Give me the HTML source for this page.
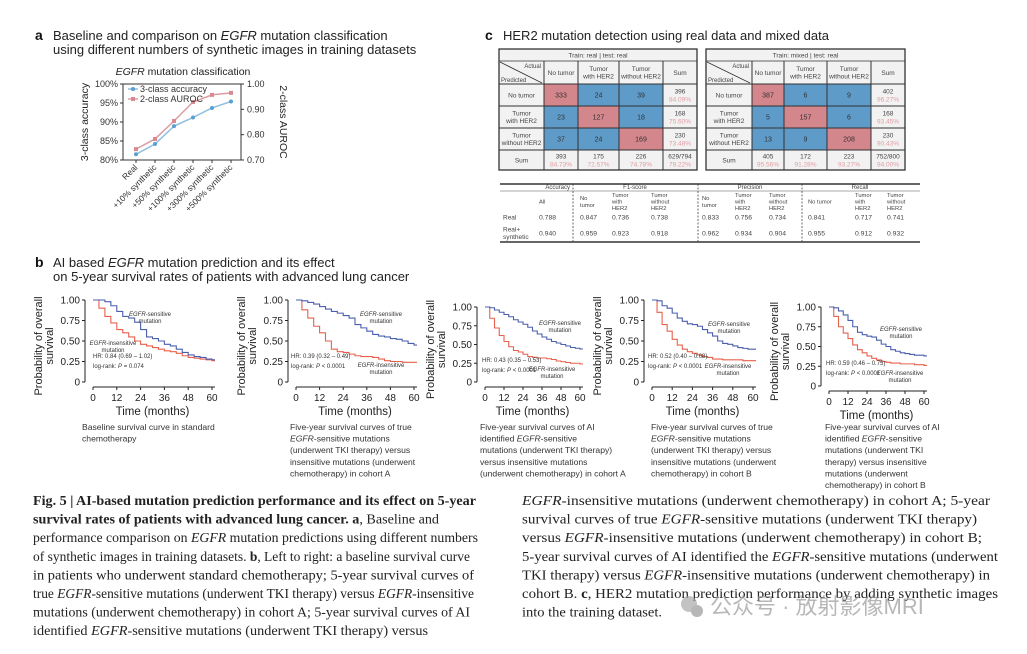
<!DOCTYPE html>
<html><head><meta charset="utf-8"><style>
html,body{margin:0;padding:0;background:#fff;}
svg{display:block;font-family:"Liberation Sans",sans-serif;}
.cap{font-family:"Liberation Serif","Noto Serif CJK SC",serif;font-size:13.5px;fill:#222;}
</style></head><body>
<svg id="fig" width="1027" height="654" viewBox="0 0 1027 654" xmlns="http://www.w3.org/2000/svg">
<rect width="1027" height="654" fill="#fff"/>
<g id="panelA"></g>
<g id="panelC"></g>
<g id="panelB"></g>
<g id="caption"></g>
</svg>
<script>
// ---------- Panel a data ----------
const catsA = ["Real","+10% synthetic","+50% synthetic","+100% synthetic","+300% synthetic","+500% synthetic"];
const accA = [81.5, 84.2, 88.9, 91.2, 93.7, 95.4];
const aucA = [0.743, 0.783, 0.854, 0.929, 0.957, 0.965];
const accTicks = ["80%","85%","90%","95%","100%"];
const aucTicks = ["0.70","0.80","0.90","1.00"];

// ---------- Panel c data ----------
const cmLabels = ["No tumor","Tumor\nwith HER2","Tumor\nwithout HER2"];
const cmReal = [[333,24,39],[23,127,18],[37,24,169]];
const cmRealRowSum = ["396","168","230"];
const cmRealRowPct = ["84.09%","75.60%","73.48%"];
const cmRealColSum = ["393","175","226","629/794"];
const cmRealColPct = ["84.73%","72.57%","74.78%","79.22%"];
const cmMix = [[387,6,9],[5,157,6],[13,9,208]];
const cmMixRowSum = ["402","168","230"];
const cmMixRowPct = ["96.27%","93.45%","90.43%"];
const cmMixColSum = ["405","172","223","752/800"];
const cmMixColPct = ["95.56%","91.28%","93.27%","94.00%"];
const metricRows = ["Real","Real+\nsynthetic"];
const metricReal = ["0.788","0.847","0.736","0.738","0.833","0.756","0.734","0.841","0.717","0.741"];
const metricSyn = ["0.940","0.959","0.923","0.918","0.962","0.934","0.904","0.955","0.912","0.932"];

// ---------- Panel b data (survival at 0,3,...,60 months) ----------
const kmTimes = [0,3,6,9,12,15,18,21,24,27,30,33,36,39,42,45,48,51,54,57,60];
const km1Sens = [1,1,.98,.93,.86,.80,.78,.73,.64,.55,.53,.50,.46,.44,.40,.36,.33,.31,.30,.28,.27];
const km1Ins  = [1,.90,.80,.72,.64,.60,.55,.50,.46,.44,.42,.40,.38,.37,.35,.32,.30,.29,.28,.27,.26];
const km2Sens = [1,.99,.97,.95,.92,.89,.86,.84,.81,.78,.70,.66,.62,.58,.56,.55,.53,.52,.50,.47,.45];
const km2Ins  = [1,.88,.78,.68,.60,.50,.40,.37,.36,.34,.32,.31,.31,.30,.28,.26,.25,.25,.24,.24,.24];
const km3Sens = [1,.99,.96,.93,.90,.87,.83,.80,.77,.73,.68,.64,.60,.57,.54,.52,.50,.48,.46,.45,.44];
const km3Ins  = [1,.85,.72,.62,.54,.47,.42,.40,.37,.34,.33,.32,.32,.31,.30,.28,.27,.26,.25,.25,.24];
const km4Sens = [1,.99,.93,.90,.84,.78,.74,.71,.70,.68,.64,.60,.56,.50,.47,.46,.44,.42,.41,.40,.40];
const km4Ins  = [1,.85,.70,.62,.52,.45,.40,.37,.35,.33,.31,.30,.28,.28,.27,.27,.27,.27,.26,.26,.26];
const km5Sens = [1,.99,.95,.90,.83,.75,.68,.65,.63,.62,.58,.53,.50,.46,.44,.42,.41,.40,.39,.39,.38];
const km5Ins  = [1,.88,.75,.67,.60,.52,.46,.42,.38,.35,.33,.31,.30,.29,.29,.28,.28,.28,.27,.27,.26];
const kmXTicks = ["0","12","24","36","48","60"];
const kmYTicks = ["0","0.25","0.50","0.75","1.00"];

const NS="http://www.w3.org/2000/svg";
function el(tag, attrs, parent, text){
  const e=document.createElementNS(NS,tag);
  for(const k in attrs) e.setAttribute(k,attrs[k]);
  if(text!==undefined) e.textContent=text;
  parent.appendChild(e); return e;
}

// ================= Panel a =================
(function(){
  const g=document.getElementById('panelA');
  const t1=el('text',{x:35,y:40,'font-size':14,'font-weight':'bold',fill:'#111'},g,'a');
   
  const tt=el('text',{x:53,y:40,'font-size':13,fill:'#222'},g);
   
  tt.innerHTML='Baseline and comparison on <tspan font-style="italic">EGFR</tspan> mutation classification';
  const tt2=el('text',{x:53,y:54,'font-size':13,fill:'#222'},g,'using different numbers of synthetic images in training datasets');
   
  const st=el('text',{x:183,y:75,'font-size':10.5,'text-anchor':'middle',fill:'#222'},g);
   
  st.innerHTML='<tspan font-style="italic">EGFR</tspan> mutation classification';
  const L=123,R=241,T=84,B=160;
  const xS=i=>136+i*(231-136)/(catsA.length-1);
  const yAcc=v=>B-(v-80)/20*(B-T);
  const yAuc=v=>B-(v-0.7)/0.3*(B-T);
  const box=el('rect',{x:L,y:T,width:R-L,height:B-T,fill:'none',stroke:'#333','stroke-width':1},g);
   
  accTicks.forEach((s,i)=>{const v=80+i*5;const y=yAcc(v);
    el('line',{x1:L-3,x2:L,y1:y,y2:y,stroke:'#333'},g);
    const t=el('text',{x:L-5,y:y+3,'font-size':9,'text-anchor':'end',fill:'#333'},g,s);
     });
  aucTicks.forEach((s,i)=>{const v=0.7+i*0.1;const y=yAuc(v);
    el('line',{x1:R,x2:R+3,y1:y,y2:y,stroke:'#333'},g);
    const t=el('text',{x:R+6,y:y+3,'font-size':9,fill:'#333'},g,s);
     });
  catsA.forEach((c,i)=>{const x=xS(i);
    el('line',{x1:x,x2:x,y1:B,y2:B+3,stroke:'#333'},g);
    const t=el('text',{x:x+2,y:B+8,'font-size':8.5,'text-anchor':'end',fill:'#333',transform:`rotate(-45 ${x+2} ${B+8})`},g,c);
     });
  const yl=el('text',{x:88,y:122,'font-size':10.5,'text-anchor':'middle',fill:'#222',transform:'rotate(-90 88 122)'},g,'3-class accuracy');
   
  const yr=el('text',{x:280,y:122,'font-size':10.5,'text-anchor':'middle',fill:'#222',transform:'rotate(90 280 122)'},g,'2-class AUROC');
   
  const pa=el('polyline',{points:aucA.map((v,i)=>xS(i)+','+yAuc(v)).join(' '),fill:'none',stroke:'#dc9da2','stroke-width':1.5},g);
   
  aucA.forEach((v,i)=>{const m=el('rect',{x:xS(i)-2,y:yAuc(v)-2,width:4,height:4,fill:'#d88a90'},g);
     });
  const pb=el('polyline',{points:accA.map((v,i)=>xS(i)+','+yAcc(v)).join(' '),fill:'none',stroke:'#8fc0e0','stroke-width':1.5},g);
   
  accA.forEach((v,i)=>{const m=el('circle',{cx:xS(i),cy:yAcc(v),r:2,fill:'#5a9fd0'},g);
     });
  el('line',{x1:128,x2:138,y1:89,y2:89,stroke:'#8fc0e0','stroke-width':1.5},g);
  el('circle',{cx:133,cy:89,r:2,fill:'#5a9fd0'},g);
  const l1=el('text',{x:140,y:92,'font-size':9,fill:'#333'},g,'3-class accuracy');
   
  el('line',{x1:128,x2:138,y1:99,y2:99,stroke:'#dc9da2','stroke-width':1.5},g);
  el('rect',{x:131,y:97,width:4,height:4,fill:'#d88a90'},g);
  const l2=el('text',{x:140,y:102,'font-size':9,fill:'#333'},g,'2-class AUROC');
   
})();

// ================= Panel c =================
function ml(g,x,y,str,fs,fill,anchor,name){
  const lines=str.split('\n');const lh=fs*1.15;
  const y0=y-(lines.length-1)*lh/2;
  lines.forEach((s,i)=>{const t=el('text',{x:x,y:y0+i*lh+fs*0.35,'font-size':fs,'text-anchor':anchor||'middle',fill:fill||'#333'},g,s);
     });
}
function confTable(g,cols,title,cm,rs,rp,cs,cp,name){
  const rows=[49,61,84,106,128,150,170];
  const tg=el('g',{},g);  
  const L=cols[0],R=cols[5];
  el('rect',{x:L,y:rows[0],width:R-L,height:rows[6]-rows[0],fill:'#f1f2f1'},tg);
  for(let r=0;r<3;r++)for(let c=0;c<3;c++){
    const cell=el('rect',{x:cols[c+1],y:rows[r+2],width:cols[c+2]-cols[c+1],height:rows[r+3]-rows[r+2],fill:r===c?'#d3868b':'#5e9bc9'},tg);
     
    ml(tg,(cols[c+1]+cols[c+2])/2,(rows[r+2]+rows[r+3])/2,String(cm[r][c]),7,'#333','middle','cell-value');
  }
  el('rect',{x:L,y:rows[0],width:R-L,height:rows[6]-rows[0],fill:'none',stroke:'#333','stroke-width':1.3},tg);
  for(let i=1;i<6;i++) el('line',{x1:L,x2:R,y1:rows[i],y2:rows[i],stroke:'#333','stroke-width':i===1?0.8:1},tg);
  for(let i=1;i<5;i++) el('line',{x1:cols[i],x2:cols[i],y1:rows[1],y2:rows[6],stroke:'#333','stroke-width':1},tg);
  ml(tg,(L+R)/2,55,title,6.5,'#444','middle','table-title');
  el('line',{x1:L+1,y1:rows[1]+1,x2:cols[1]-2,y2:rows[2]-1,stroke:'#333','stroke-width':0.8},tg);
  ml(tg,cols[1]-3,66,'Actual',6,'#444','end','header-actual');
  ml(tg,L+2,80,'Predicted',6,'#444','start','header-predicted');
  const hd=["No tumor","Tumor\nwith HER2","Tumor\nwithout HER2","Sum"];
  hd.forEach((h,i)=>ml(tg,(cols[i+1]+cols[i+2])/2,72.5,h,6.5,'#444','middle','column-header'));
  cmLabels.forEach((h,i)=>ml(tg,(L+cols[1])/2,(rows[i+2]+rows[i+3])/2,h,6.5,'#444','middle','row-header'));
  ml(tg,(L+cols[1])/2,160,'Sum',6.5,'#444','middle','row-header');
  for(let r=0;r<3;r++){const cy=(rows[r+2]+rows[r+3])/2;
    ml(tg,(cols[4]+R)/2,cy-4,rs[r],6.5,'#444','middle','row-sum');
    ml(tg,(cols[4]+R)/2,cy+4,rp[r],6.5,'#e39ca2','middle','row-percent');}
  for(let c=0;c<4;c++){const cx=(cols[c+1]+cols[c+2])/2;
    ml(tg,cx,156,cs[c],6.5,'#444','middle','column-sum');
    ml(tg,cx,164,cp[c],6.5,'#e39ca2','middle','column-percent');}
}
(function(){
  const g=document.getElementById('panelC');
  const a=el('text',{x:485,y:40,'font-size':14,'font-weight':'bold',fill:'#111'},g,'c');
   
  const t=el('text',{x:503,y:40,'font-size':13,fill:'#222'},g,'HER2 mutation detection using real data and mixed data');
   
  confTable(g,[499,544,578,619,663,697],'Train: real | test: real',cmReal,cmRealRowSum,cmRealRowPct,cmRealColSum,cmRealColPct,'confusion-matrix-real');
  confTable(g,[706,752,784,827,871,905],'Train: mixed | test: real',cmMix,cmMixRowSum,cmMixRowPct,cmMixColSum,cmMixColPct,'confusion-matrix-mixed');
  const mg=el('g',{},g);  
  el('line',{x1:500,x2:920,y1:184,y2:184,stroke:'#333','stroke-width':1.5},mg);
  el('line',{x1:500,x2:920,y1:191,y2:191,stroke:'#555','stroke-width':0.6},mg);
  el('line',{x1:500,x2:920,y1:242,y2:242,stroke:'#333','stroke-width':1.5},mg);
  [573,698,802].forEach(x=>el('line',{x1:x,x2:x,y1:184,y2:242,stroke:'#444','stroke-width':0.8,'stroke-dasharray':'2,1.5'},mg));
  ml(mg,570,187,'Accuracy',6,'#444','end','metric-header');
  ml(mg,635,187,'F1-score',6,'#444','middle','metric-header');
  ml(mg,750,187,'Precision',6,'#444','middle','metric-header');
  ml(mg,860,187,'Recall',6,'#444','middle','metric-header');
  const colX=[539,580,612,651,702,735,769,808,855,887];
  const sub=["All","No\ntumor","Tumor\nwith\nHER2","Tumor\nwithout\nHER2","No\ntumor","Tumor\nwith\nHER2","Tumor\nwithout\nHER2","No tumor","Tumor\nwith\nHER2","Tumor\nwithout\nHER2"];
  sub.forEach((s,i)=>ml(mg,colX[i],201.5,s,5.8,'#444','start','metric-subheader'));
  ml(mg,503,217,metricRows[0],6.5,'#444','start','metric-row-label');
  ml(mg,503,233,metricRows[1],6.5,'#444','start','metric-row-label');
  metricReal.forEach((v,i)=>ml(mg,colX[i],217,v,6.8,'#444','start','metric-value'));
  metricSyn.forEach((v,i)=>ml(mg,colX[i],233,v,6.8,'#444','start','metric-value'));
})();

// ================= Panel b =================
function kmPlot(g,cfg,sens,ins){
  const pg=el('g',{},g);  
  const xS=t=>cfg.x0+t/60*(cfg.x60-cfg.x0);
  const yS=v=>cfg.y0-v*(cfg.y0-cfg.y1);
  const ax=cfg.x0-8, bx=cfg.y0+5;
  el('line',{x1:ax,x2:ax,y1:cfg.y1,y2:cfg.y0,stroke:'#222','stroke-width':1},pg);
  el('line',{x1:cfg.x0,x2:cfg.x60+3,y1:bx,y2:bx,stroke:'#222','stroke-width':1},pg);
  kmYTicks.forEach((s,i)=>{const y=yS(i*0.25);
    el('line',{x1:ax-3,x2:ax,y1:y,y2:y,stroke:'#222'},pg);
    const t=el('text',{x:ax-5,y:y+3.5,'font-size':10,'text-anchor':'end',fill:'#222'},pg,s);
     });
  kmXTicks.forEach((s,i)=>{const x=xS(i*12);
    el('line',{x1:x,x2:x,y1:bx,y2:bx+3,stroke:'#222'},pg);
    const t=el('text',{x:x,y:bx+14,'font-size':10,'text-anchor':'middle',fill:'#222'},pg,s);
     });
  const xt=el('text',{x:(cfg.x0+cfg.x60)/2,y:bx+28,'font-size':11.5,'text-anchor':'middle',fill:'#222'},pg,'Time (months)');
   
  const cy=(cfg.y0+cfg.y1)/2+5;
  [['Probability of overall',ax-43],['survival',ax-32]].forEach(([s,x])=>{
    const t=el('text',{x:x,y:cy,'font-size':11,'text-anchor':'middle',fill:'#222',transform:`rotate(-90 ${x} ${cy})`},pg,s);
     });
  function step(arr){let d='M'+xS(kmTimes[0])+','+yS(arr[0]);
    for(let i=1;i<arr.length;i++){d+=' H'+xS(kmTimes[i])+' V'+yS(arr[i]);} d+=' H'+(cfg.x60+3); return d;}
  const pr=el('path',{d:step(ins),fill:'none',stroke:'#e8604c','stroke-width':1.1},pg);
   
  const pb=el('path',{d:step(sens),fill:'none',stroke:'#4a5fae','stroke-width':1.1},pg);
   
  function note(x,y,anchor,name){const t=el('text',{x:x,y:y,'font-size':6,'text-anchor':anchor,fill:'#333'},pg);
      return t;}
  let t=note(cfg.sx,cfg.sy,'middle','sensitive-label'); t.innerHTML='<tspan font-style="italic">EGFR</tspan>-sensitive';
  note(cfg.sx,cfg.sy+7,'middle','sensitive-label').textContent='mutation';
  t=note(cfg.ix,cfg.iy,'middle','insensitive-label'); t.innerHTML='<tspan font-style="italic">EGFR</tspan>-insensitive';
  note(cfg.ix,cfg.iy+7,'middle','insensitive-label').textContent='mutation';
  note(cfg.hx,cfg.hy,'start','hazard-ratio').textContent=cfg.hr;
  t=note(cfg.hx,cfg.hy+10,'start','log-rank-p'); t.innerHTML='log-rank: <tspan font-style="italic">P</tspan> '+cfg.p;
  const cap=el('text',{x:cfg.cx,y:430,'font-size':8.6,fill:'#333'},pg);
   
  cfg.cap.forEach((s,i)=>{const ts=el('tspan',{x:cfg.cx,y:430+i*11.6},cap); ts.innerHTML=s;});
}
(function(){
  const g=document.getElementById('panelB');
  const a=el('text',{x:35,y:267,'font-size':14,'font-weight':'bold',fill:'#111'},g,'b');
   
  const t=el('text',{x:53,y:267,'font-size':13,fill:'#222'},g);
   
  t.innerHTML='AI based <tspan font-style="italic">EGFR</tspan> mutation prediction and its effect';
  const t2=el('text',{x:53,y:281,'font-size':13,fill:'#222'},g,'on 5-year survival rates of patients with advanced lung cancer');
   
  const E='<tspan font-style="italic">EGFR</tspan>';
  kmPlot(g,{name:'km-baseline',x0:93,x60:212,y1:300,y0:382,sx:150,sy:316,ix:113,iy:345,hx:93,hy:358,hr:'HR: 0.84 (0.69 – 1.02)',p:'= 0.074',cx:82,
    cap:['Baseline survival curve in standard','chemotherapy']},km1Sens,km1Ins);
  kmPlot(g,{name:'km-true-cohort-a',x0:296,x60:414,y1:300,y0:382,sx:381,sy:316,ix:381,iy:367,hx:291,hy:358,hr:'HR: 0.39 (0.32 – 0.49)',p:'< 0.0001',cx:290,
    cap:['Five-year survival curves of true',E+'-sensitive mutations','(underwent TKI therapy) versus','insensitive mutations (underwent','chemotherapy) in cohort A']},km2Sens,km2Ins);
  kmPlot(g,{name:'km-ai-cohort-a',x0:485,x60:580,y1:307,y0:382,sx:560,sy:325,ix:552,iy:371,hx:482,hy:362,hr:'HR: 0.43 (0.35 – 0.53)',p:'< 0.0001',cx:480,
    cap:['Five-year survival curves of AI','identified '+E+'-sensitive','mutations (underwent TKI therapy)','versus insensitive mutations','(underwent chemotherapy) in cohort A']},km3Sens,km3Ins);
  kmPlot(g,{name:'km-true-cohort-b',x0:652,x60:753,y1:300,y0:382,sx:729,sy:326,ix:728,iy:368,hx:648,hy:358,hr:'HR: 0.52 (0.40 – 0.68)',p:'< 0.0001',cx:651,
    cap:['Five-year survival curves of true',E+'-sensitive mutations','(underwent TKI therapy) versus','insensitive mutations (underwent','chemotherapy) in cohort B']},km4Sens,km4Ins);
  kmPlot(g,{name:'km-ai-cohort-b',x0:829,x60:924,y1:307,y0:386,sx:901,sy:331,ix:900,iy:375,hx:826,hy:365,hr:'HR: 0.59 (0.46 – 0.75)',p:'< 0.0001',cx:825,
    cap:['Five-year survival curves of AI','identified '+E+'-sensitive','mutations (underwent TKI','therapy) versus insensitive','mutations (underwent','chemotherapy) in cohort B']},km5Sens,km5Ins);
})();

// ================= Caption =================
(function(){
  const g=document.getElementById('caption');
  const E='<tspan font-style="italic">EGFR</tspan>';
  const B=s=>'<tspan font-weight="bold">'+s+'</tspan>';
  const left=[
    [B('Fig. 5 | AI-based mutation prediction performance and its effect on 5-year'),476],
    [B('survival rates of patients with advanced lung cancer. a')+', Baseline and',439],
    ['performance comparison on '+E+' mutation predictions using different numbers',478],
    ['of synthetic images in training datasets. '+B('b')+', Left to right: a baseline survival curve',470],
    ['in patients who underwent standard chemotherapy; 5-year survival curves of',474],
    ['true '+E+'-sensitive mutations (underwent TKI therapy) versus '+E+'-insensitive',474],
    ['mutations (underwent chemotherapy) in cohort A; 5-year survival curves of AI',470],
    ['identified '+E+'-sensitive mutations (underwent TKI therapy) versus',428]];
  const right=[
    [E+'-insensitive mutations (underwent chemotherapy) in cohort A; 5-year',990],
    ['survival curves of true '+E+'-sensitive mutations (underwent TKI therapy)',977],
    ['versus '+E+'-insensitive mutations (underwent chemotherapy) in cohort B;',982],
    ['5-year survival curves of AI identified the '+E+'-sensitive mutations (underwent',998],
    ['TKI therapy) versus '+E+'-insensitive mutations (underwent chemotherapy) in',990],
    ['cohort B. '+B('c')+', HER2 mutation prediction performance by adding synthetic images',998],
    ['into the training dataset.',662]];
  left.forEach(([s,end],i)=>{const t=el('text',{x:33,y:505+i*18.6,class:'cap',textLength:end-33,lengthAdjust:'spacingAndGlyphs'},g);
      t.innerHTML=s;});
  right.forEach(([s,end],i)=>{const t=el('text',{x:522,y:505+i*18.6,class:'cap',textLength:end-522,lengthAdjust:'spacingAndGlyphs'},g);
      t.innerHTML=s;});
  const w=el('g',{opacity:0.7},g);  
  el('circle',{cx:689,cy:604,r:8,fill:'#aaa'},w);
  el('circle',{cx:697,cy:611,r:6,fill:'#999'},w);
  const wt=el('text',{x:710,y:614,'font-size':22,fill:'#999','font-family':'"Liberation Sans","Noto Sans CJK SC",sans-serif'},w,'公众号 · 放射影像MRI');
   
})();
</script>
</body></html>
